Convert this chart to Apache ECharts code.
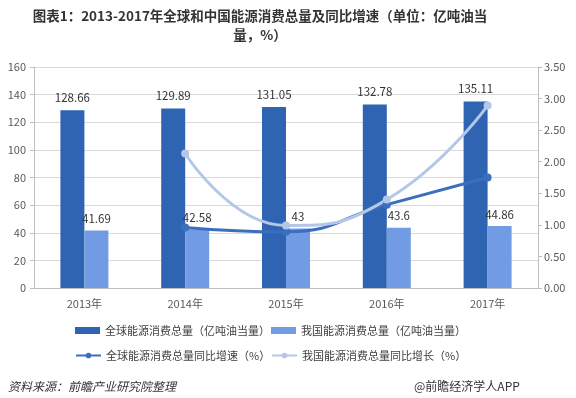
<!DOCTYPE html>
<html><head><meta charset="utf-8">
<script src="https://cdn.jsdelivr.net/npm/echarts@6/dist/echarts.min.js"></script>
<style>html,body{margin:0;padding:0;background:#fff}#c{width:576px;height:398px}</style>
</head><body><div id="c"></div>
<script>
const categories = ['2013年','2014年','2015年','2016年','2017年'];
const globalTotal = [128.66, 129.89, 131.05, 132.78, 135.11];
const chinaTotal = [41.69, 42.58, 43, 43.6, 44.86];
const globalGrowth = [null, 0.96, 0.89, 1.32, 1.75];
const chinaGrowth = [null, 2.13, 0.99, 1.40, 2.89];
const seriesNames = ['全球能源消费总量（亿吨油当量）','我国能源消费总量（亿吨油当量）','全球能源消费总量同比增速（%）','我国能源消费总量同比增长（%）'];
const titleText = '图表1：2013-2017年全球和中国能源消费总量及同比增速（单位：亿吨油当\n量，%）';
const font = '"Microsoft YaHei","Noto Sans CJK SC",sans-serif';

const legendText = {fontSize:11,color:'#404040',fontFamily:font};
function lg(name, left, top, icon){
  return {left:left, top:top, itemWidth:25, itemHeight:7, itemGap:0, textStyle:legendText,
          data:[icon ? {name:name, icon:icon} : {name:name}]};
}

const chart = echarts.init(document.getElementById('c'));
chart.setOption({
  animation:false,
  textStyle:{fontFamily:font},
  grid:{left:34,right:38,top:67,bottom:110},
  legend:[
    lg(seriesNames[0], 70, 320, 'rect'),
    lg(seriesNames[1], 266, 320, 'rect'),
    lg(seriesNames[2], 70, 345),
    lg(seriesNames[3], 266, 345)
  ],
  xAxis:{type:'category',data:categories,
    axisLine:{lineStyle:{color:'#bfbfbf'}},axisTick:{show:false},
    axisLabel:{color:'#595959',fontSize:11,margin:10}},
  yAxis:[
    {type:'value',min:0,max:160,interval:20,
     axisLine:{show:true,lineStyle:{color:'#bfbfbf'}},axisTick:{show:true,length:4,lineStyle:{color:'#bfbfbf'}},
     axisLabel:{color:'#595959',fontSize:11,margin:8},
     splitLine:{lineStyle:{color:'#d9d9d9'}}},
    {type:'value',min:0,max:3.5,interval:0.5,position:'right',
     axisLine:{show:true,lineStyle:{color:'#bfbfbf'}},axisTick:{show:true,length:4,lineStyle:{color:'#bfbfbf'}},
     axisLabel:{color:'#595959',fontSize:11,margin:6,formatter:v=>v.toFixed(2)},
     splitLine:{show:false}}
  ],
  series:[
    {name:seriesNames[0],type:'bar',data:globalTotal,barWidth:24,barGap:'0%',
     itemStyle:{color:'#2e64b2'},
     label:{show:true,position:'top',distance:7,color:'#333',fontSize:11.5}},
    {name:seriesNames[1],type:'bar',data:chinaTotal,barWidth:24,
     itemStyle:{color:'#719ce4'},
     label:{show:true,position:'top',distance:6,color:'#333',fontSize:11.5}},
    {name:seriesNames[2],type:'line',yAxisIndex:1,data:globalGrowth,smooth:0.5,
     symbol:'circle',symbolSize:8,lineStyle:{width:3,color:'#3a6fc0'},itemStyle:{color:'#3a6fc0'}},
    {name:seriesNames[3],type:'line',yAxisIndex:1,data:chinaGrowth,smooth:0.5,
     symbol:'circle',symbolSize:8,lineStyle:{width:3,color:'#b4c7e9'},itemStyle:{color:'#b4c7e9'}}
  ],
  graphic:[
    {type:'text',x:260,y:6,style:{text:titleText,textAlign:'center',fontSize:13.5,fontWeight:'bold',lineHeight:19,fill:'#333',fontFamily:font}},
    {type:'text',left:8,top:380,style:{text:'资料来源：前瞻产业研究院整理',fontSize:12,fontStyle:'italic',fill:'#333',fontFamily:font}},
    {type:'text',left:414,top:380,style:{text:'@前瞻经济学人APP',fontSize:12,fill:'#333',fontFamily:font}}
  ]
});
</script></body></html>
